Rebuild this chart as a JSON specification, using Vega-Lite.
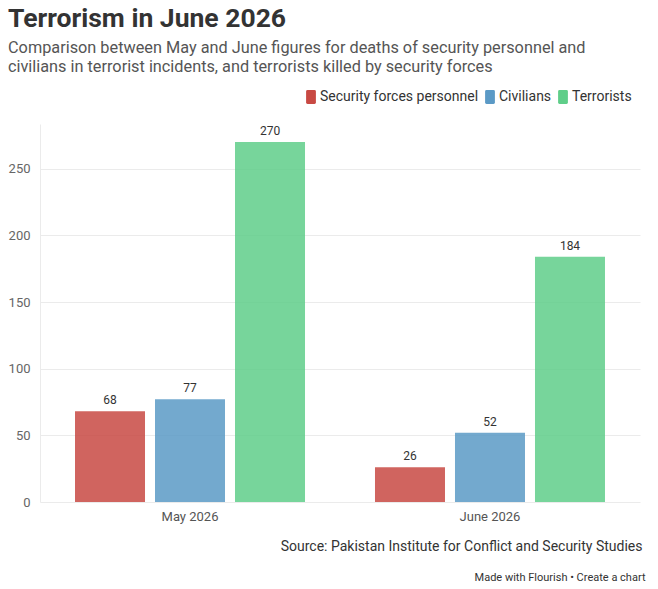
{
  "$schema": "https://vega.github.io/schema/vega-lite/v6.json",
  "autosize": "none",
  "width": 600,
  "height": 378,
  "padding": {"left": 40, "top": 124, "right": 18, "bottom": 87},
  "background": "white",
  "title": {
    "text": "Terrorism in June 2026",
    "subtitle": [
      "Comparison between May and June figures for deaths of security personnel and",
      "civilians in terrorist incidents, and terrorists killed by security forces"
    ],
    "anchor": "start",
    "frame": "group",
    "dx": -32,
    "offset": 15,
    "fontSize": 26.5,
    "fontWeight": "bold",
    "color": "#333333",
    "subtitleFontSize": 16.3,
    "subtitleColor": "#555555",
    "subtitleLineHeight": 19,
    "subtitlePadding": 7
  },
  "data": {
    "values": [
      {"month": "May 2026", "category": "Security forces personnel", "deaths": 68},
      {"month": "May 2026", "category": "Civilians", "deaths": 77},
      {"month": "May 2026", "category": "Terrorists", "deaths": 270},
      {"month": "June 2026", "category": "Security forces personnel", "deaths": 26},
      {"month": "June 2026", "category": "Civilians", "deaths": 52},
      {"month": "June 2026", "category": "Terrorists", "deaths": 184}
    ]
  },
  "encoding": {
    "x": {
      "field": "month",
      "type": "nominal",
      "sort": ["May 2026", "June 2026"],
      "scale": {"paddingInner": 0.2333, "paddingOuter": 0.1167},
      "axis": {
        "labelAngle": 0,
        "ticks": false,
        "domain": false,
        "labelFontSize": 13,
        "labelColor": "#555555",
        "labelPadding": 8,
        "title": "Source: Pakistan Institute for Conflict and Security Studies",
        "titleX": 602,
        "titleY": 44,
        "titleAlign": "right",
        "titleBaseline": "middle",
        "titleFontSize": 14,
        "titleFontWeight": "normal",
        "titleColor": "#333333"
      }
    },
    "xOffset": {
      "field": "category",
      "type": "nominal",
      "sort": ["Security forces personnel", "Civilians", "Terrorists"],
      "scale": {"paddingInner": 0.125, "paddingOuter": 0}
    },
    "y": {
      "field": "deaths",
      "type": "quantitative",
      "scale": {"domain": [0, 283.5], "nice": false},
      "axis": {
        "values": [0, 50, 100, 150, 200, 250],
        "grid": true,
        "gridColor": "#ebebeb",
        "domain": true,
        "domainColor": "#ebebeb",
        "ticks": false,
        "labelPadding": 10,
        "labelFontSize": 13,
        "labelColor": "#666666",
        "title": "Made with Flourish • Create a chart",
        "titleAngle": 0,
        "titleX": 605,
        "titleY": 453,
        "titleAlign": "right",
        "titleBaseline": "middle",
        "titleFontSize": 11,
        "titleFontWeight": "normal",
        "titleColor": "#333333"
      }
    }
  },
  "layer": [
    {
      "mark": {"type": "bar", "opacity": 0.85},
      "encoding": {
        "color": {
          "field": "category",
          "type": "nominal",
          "sort": ["Security forces personnel", "Civilians", "Terrorists"],
          "scale": {
            "domain": ["Security forces personnel", "Civilians", "Terrorists"],
            "range": ["#c84943", "#5b9ac6", "#5fce89"]
          },
          "legend": {
            "title": null,
            "orient": "none",
            "direction": "horizontal",
            "legendX": 264,
            "legendY": -34,
            "symbolType": "M-0.5,-1 L0.5,-1 Q0.7,-1 0.7,-0.8 L0.7,0.8 Q0.7,1 0.5,1 L-0.5,1 Q-0.7,1 -0.7,0.8 L-0.7,-0.8 Q-0.7,-1 -0.5,-1 Z",
            "symbolSize": 196,
            "symbolOpacity": 1,
            "symbolStrokeWidth": 0,
            "labelFontSize": 14,
            "labelColor": "#333333",
            "labelOffset": 2,
            "columnPadding": 4
          }
        }
      }
    },
    {
      "mark": {
        "type": "text",
        "baseline": "bottom",
        "dy": -4,
        "fontSize": 12,
        "fontWeight": "normal",
        "color": "#333333"
      },
      "encoding": {
        "text": {"field": "deaths", "type": "quantitative"}
      }
    }
  ],
  "config": {
    "font": "Roboto",
    "view": {"stroke": null}
  }
}
